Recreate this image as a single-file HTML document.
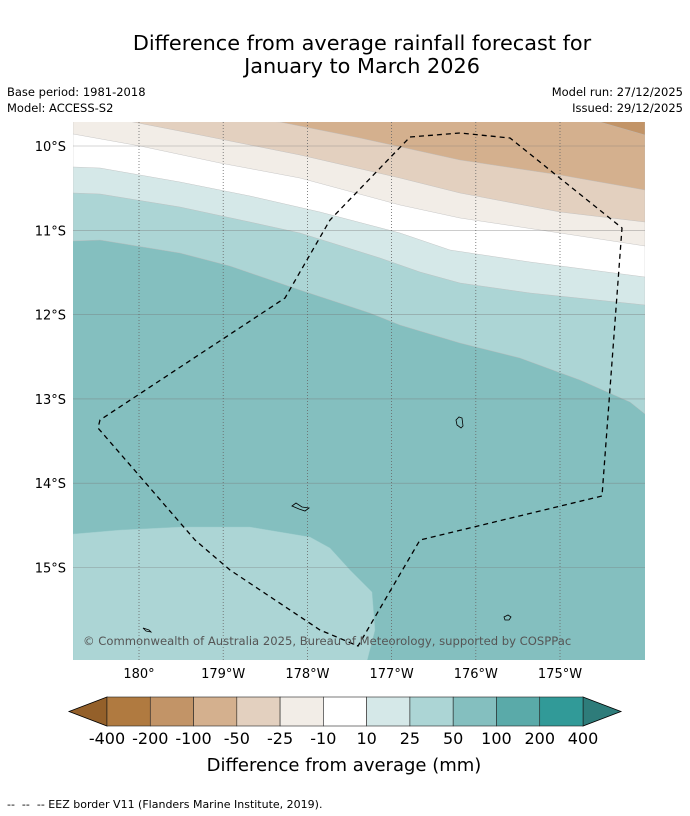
<!DOCTYPE html>
<html><head><meta charset="utf-8"><style>
body{margin:0;background:#fff;font-family:"Liberation Sans","DejaVu Sans",sans-serif}
#wrap{position:relative;width:690px;height:816px;overflow:hidden;background:#fff}
</style></head><body>
<div id="wrap">
<svg id="svg" width="690" height="816" xmlns="http://www.w3.org/2000/svg" font-family="DejaVu Sans, Liberation Sans, sans-serif">
<text x="362" y="50" font-size="20.8" text-anchor="middle">Difference from average rainfall forecast for</text>
<text x="362" y="73" font-size="20.8" text-anchor="middle">January to March 2026</text>
<text x="7" y="96" font-size="11.5">Base period: 1981-2018</text>
<text x="7" y="112" font-size="11.5">Model: ACCESS-S2</text>
<text x="683" y="96" font-size="11.5" text-anchor="end">Model run: 27/12/2025</text>
<text x="683" y="112" font-size="11.5" text-anchor="end">Issued: 29/12/2025</text>
<defs><clipPath id="mc"><rect x="73" y="122" width="572" height="538"/></clipPath></defs>
<g id="map" clip-path="url(#mc)"></g>
<g id="axes"></g>
<g id="cbar"></g>
<text x="344" y="771" font-size="18" text-anchor="middle">Difference from average (mm)</text>
<text x="7" y="808" font-size="11" xml:space="preserve">--  --  -- EEZ border V11 (Flanders Marine Institute, 2019).</text>
</svg>
</div>
<script>
const levels=["-400","-200","-100","-50","-25","-10","10","25","50","100","200","400"];
const colors=["#b07a40","#c29467","#d4b08e","#e3d0bf","#f2ede7","#ffffff","#d5e8e8","#acd5d5","#84bfbf","#5aaaa9","#319a98"];
const lonTicks=[180,179,178,177,176,175];
const lonLabels=["180°","179°W","178°W","177°W","176°W","175°W"];
const latTicks=[10,11,12,13,14,15];
const NS="http://www.w3.org/2000/svg";
function mk(t,a,p){const e=document.createElementNS(NS,t);for(const k in a)e.setAttribute(k,a[k]);p.appendChild(e);return e;}
const xLon=l=>139+(180-l)*84.2;
const yLat=l=>146+(l-10)*84.3;
const map=document.getElementById('map'),axes=document.getElementById('axes'),cb=document.getElementById('cbar');
mk('rect',{x:73,y:122,width:572,height:538,fill:"#84bfbf"},map);
const bands=[
 ["#acd5d5","73,241 100,240 180,253 230,266 300,290 370,313 400,325 460,343 520,358 580,380 630,402 645,414"],
 ["#d5e8e8","73,193 100,194 180,207 250,222 300,233 380,258 420,272 460,283 530,293 645,305"],
 ["#ffffff","73,167 100,168 180,182 250,196 320,212 400,233 450,250 530,262 645,277"],
 ["#f2ede7","73,134 140,146 220,163 300,178 400,205 460,218 560,233 645,246"],
 ["#e3d0bf","133,122 200,135 300,155 400,178 460,193 560,212 645,222"],
 ["#d4b08e","280,122 360,138 460,160 560,175 645,190"],
 ["#c29467","600,122 645,135"]
];
bands.forEach((b,i)=>{const p=mk('polygon',{points:"645,110 73,110 "+b[1],fill:b[0],stroke:"#bbb","stroke-width":0.4},map);

});
const bl=mk('polygon',{points:"73,534 120,530 180,527 250,527 310,537 330,548 350,570 372,592 375,630 366,665 73,665",fill:"#acd5d5",stroke:"#9cc",["stroke-width"]:0.4},map);


latTicks.forEach(l=>{const y=yLat(l);mk('line',{x1:73,x2:645,y1:y,y2:y,stroke:"#777","stroke-width":0.6,opacity:0.6},map);
const t=mk('text',{x:66,y:y+5,"font-size":13,"text-anchor":"end"},axes);t.textContent=l+"°S";

});
lonTicks.forEach((l,i)=>{const x=xLon(l);mk('line',{x1:x,x2:x,y1:122,y2:660,stroke:"#666","stroke-width":0.8,"stroke-dasharray":"1,2"},map);
const t=mk('text',{x:x,y:678,"font-size":13,"text-anchor":"middle"},axes);t.textContent=lonLabels[i];

});
const eez=mk('polyline',{points:"410,137 460,133 510,138 622,228 602,496 420,540 358,646 320,630 230,570 195,540 98,428 100,420 285,298 330,220 410,137",fill:"none",stroke:"#000","stroke-width":1.3,"stroke-dasharray":"5,4"},map);


[["M456,420 l3,-3 3,1 1,8 -2,2 -4,-3z"],["M292,506 l4,-3 6,4 7,1 -4,3 -6,-2z"],["M504,617 l4,-2 3,2 -2,3 -4,0z"],["M143,628 l6,2 2,2 -5,-1z"]].forEach(d=>{const p=mk('path',{d:d[0],fill:"none",stroke:"#000","stroke-width":0.8},map);

});
const cp=mk('text',{x:83,y:645,"font-size":11.6,fill:"#555"},map);cp.textContent="© Commonwealth of Australia 2025, Bureau of Meteorology, supported by COSPPac";


const x0=107,x1=583,y0=697,y1=726,w=(x1-x0)/colors.length;
mk('polygon',{points:`${x0},${y0} 69,711.5 ${x0},${y1}`,fill:"#94602a",stroke:"#000","stroke-width":0.8},cb);
mk('polygon',{points:`${x1},${y0} 621,711.5 ${x1},${y1}`,fill:"#2e7c7a",stroke:"#000","stroke-width":0.8},cb);
colors.forEach((c,i)=>{const r=mk('rect',{x:x0+i*w,y:y0,width:w,height:y1-y0,fill:c,stroke:"#222","stroke-width":0.6},cb);

});
levels.forEach((l,i)=>{const t=mk('text',{x:x0+i*w,y:744,"font-size":16,"text-anchor":"middle"},cb);t.textContent=l;

});
</script>
</body></html>
